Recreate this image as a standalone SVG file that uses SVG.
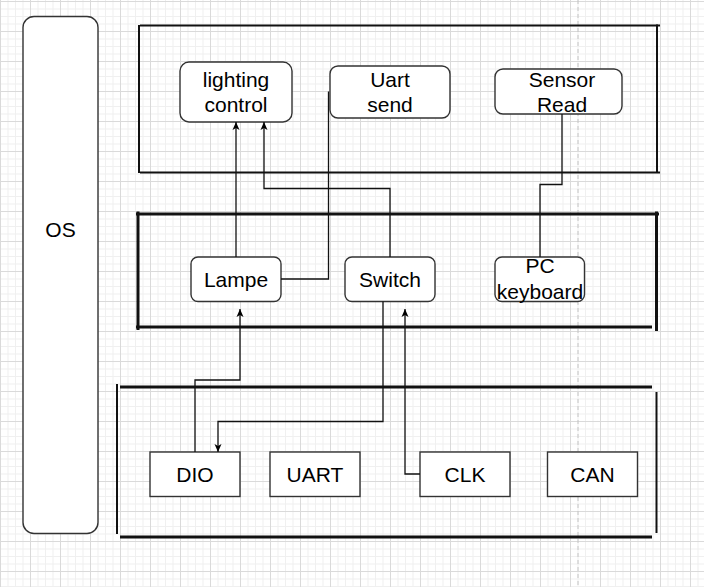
<svg xmlns="http://www.w3.org/2000/svg" width="704" height="587" viewBox="0 0 704 587">
<defs>
<pattern id="grid" patternUnits="userSpaceOnUse" width="30" height="30" patternTransform="translate(0,1)">
<rect x="0" y="0" width="30" height="30" fill="#ffffff"/>
<rect x="7.5" y="0" width="1" height="30" fill="#f0f0f0"/>
<rect x="15" y="0" width="1" height="30" fill="#f0f0f0"/>
<rect x="22.5" y="0" width="1" height="30" fill="#f0f0f0"/>
<rect x="0" y="7.5" width="30" height="1" fill="#f0f0f0"/>
<rect x="0" y="15" width="30" height="1" fill="#f0f0f0"/>
<rect x="0" y="22.5" width="30" height="1" fill="#f0f0f0"/>
<rect x="0" y="0" width="1" height="30" fill="#dadada"/>
<rect x="0" y="0" width="30" height="1" fill="#dadada"/>
</pattern>
<marker id="arrow" markerUnits="userSpaceOnUse" viewBox="0 0 8 8" refX="8" refY="4" markerWidth="8" markerHeight="8" orient="auto">
<path d="M0,0.5 L8,4 L0,7.5 L2,4 Z" fill="#000"/>
</marker>
<style>
.node{fill:#fff;stroke:#333;stroke-width:1.4}
.lbl{font-family:"Liberation Sans",Arial,sans-serif;font-size:21px;fill:#000;text-anchor:middle}
.frame{stroke:#111;fill:none}
.thin{stroke-width:2}
.thick{stroke-width:3}
.conn{fill:none;stroke:#111;stroke-width:1.3}
</style>
</defs>
<rect width="704" height="587" fill="url(#grid)"/>
<line x1="578" y1="0" x2="578" y2="587" stroke="#c4c4c4" stroke-width="1" stroke-dasharray="4 3"/>

<g id="os">
<rect class="node" x="23" y="16.5" width="75" height="517" rx="11"/>
<text class="lbl" x="60.5" y="237">OS</text>
</g>

<g id="layer-top" class="frame thin">
<line x1="139" y1="25" x2="139" y2="173"/>
<line x1="140" y1="25.5" x2="660" y2="25.5"/>
<line x1="140" y1="172.5" x2="660" y2="172.5"/>
<line x1="657" y1="24.5" x2="657" y2="173"/>
</g>

<g id="layer-middle" class="frame thick">
<line x1="138" y1="211.5" x2="138" y2="330"/>
<line x1="136" y1="214" x2="659" y2="214"/>
<line x1="136" y1="327" x2="652" y2="327"/>
<line x1="656.5" y1="211.5" x2="656.5" y2="331"/>
</g>

<g id="layer-bottom" class="frame">
<line x1="117" y1="384" x2="117" y2="534" stroke-width="2"/>
<line x1="120" y1="387" x2="652" y2="387" stroke-width="3"/>
<line x1="120" y1="537" x2="652" y2="537" stroke-width="3"/>
<line x1="656.5" y1="392" x2="656.5" y2="533" stroke-width="2"/>
</g>

<g id="lighting-control">
<rect class="node" x="180" y="62" width="112" height="60" rx="9"/>
<text class="lbl" x="236" y="87">lighting</text>
<text class="lbl" x="236" y="111.5">control</text>
</g>
<g id="uart-send">
<rect class="node" x="330" y="66" width="120" height="52" rx="8"/>
<text class="lbl" x="390" y="87">Uart</text>
<text class="lbl" x="390" y="111.5">send</text>
</g>
<g id="sensor-read">
<rect class="node" x="495" y="69" width="127" height="45" rx="8"/>
<text class="lbl" x="562" y="87">Sensor</text>
<text class="lbl" x="562" y="111.5">Read</text>
</g>

<g id="lampe">
<rect class="node" x="191" y="257" width="90" height="44.5" rx="7"/>
<text class="lbl" x="236" y="286.7">Lampe</text>
</g>
<g id="switch">
<rect class="node" x="345" y="257" width="90" height="44.5" rx="7"/>
<text class="lbl" x="390" y="286.7">Switch</text>
</g>
<g id="pc-keyboard">
<rect class="node" x="495" y="257" width="89.5" height="44.5" rx="7"/>
<text class="lbl" x="540" y="273">PC</text>
<text class="lbl" x="540" y="298.5">keyboard</text>
</g>

<g id="dio">
<rect class="node" x="150" y="452" width="90" height="44.5"/>
<text class="lbl" x="195" y="481.7">DIO</text>
</g>
<g id="uart">
<rect class="node" x="270" y="452" width="90" height="44.5"/>
<text class="lbl" x="315" y="481.7">UART</text>
</g>
<g id="clk">
<rect class="node" x="420" y="452" width="90" height="44.5"/>
<text class="lbl" x="465" y="481.7">CLK</text>
</g>
<g id="can">
<rect class="node" x="547.5" y="452" width="90" height="44.5"/>
<text class="lbl" x="592.5" y="481.7">CAN</text>
</g>

<g id="connectors">
<path class="conn" d="M236,257 L236,122" marker-end="url(#arrow)"/>
<path class="conn" d="M390,257 L390,188.5 L264,188.5 L264,122" marker-end="url(#arrow)"/>
<path class="conn" d="M281,279 L328.5,279 L328.5,91.5"/>
<path class="conn" d="M562,114 L562,184.5 L540,184.5 L540,257"/>
<path class="conn" d="M195,452 L195,380 L240,380 L240,309" marker-end="url(#arrow)"/>
<path class="conn" d="M383,301.5 L383,421.5 L218,421.5 L218,452" marker-end="url(#arrow)"/>
<path class="conn" d="M420,474 L405,474 L405,309" marker-end="url(#arrow)"/>
</g>
</svg>
